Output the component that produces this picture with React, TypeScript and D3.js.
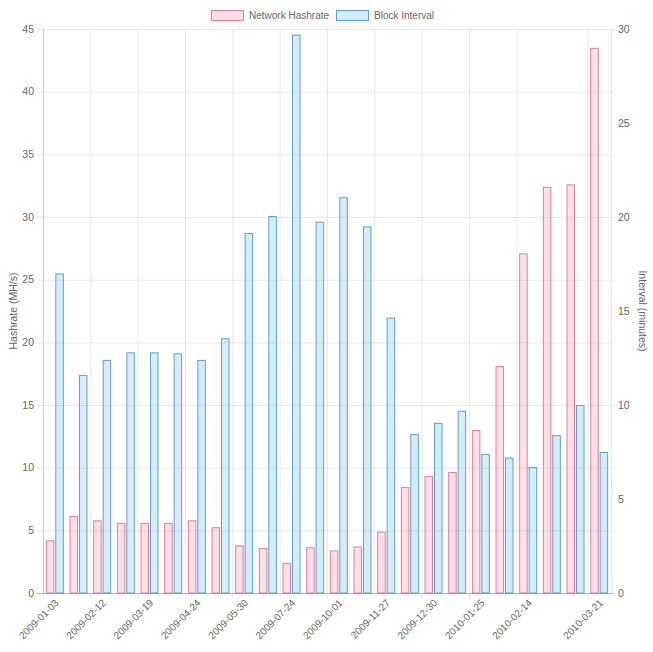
import React, { useEffect, useRef } from 'react';
import * as d3 from 'd3';

// block dates (only some are shown on the axis, like Chart.js autoskip)
const dates = [
  '2009-01-03', '2009-01-22', '2009-02-12', '2009-03-02', '2009-03-19', '2009-04-06',
  '2009-04-24', '2009-05-12', '2009-05-30', '2009-06-25', '2009-07-24', '2009-08-27',
  '2009-10-01', '2009-10-30', '2009-11-27', '2009-12-14', '2009-12-30', '2010-01-11',
  '2010-01-25', '2010-02-04', '2010-02-14', '2010-02-27', '2010-03-10', '2010-03-21',
];
const shownTicks = [0, 2, 4, 6, 8, 10, 12, 14, 16, 18, 20, 23];

const hashrate = [
  4.2, 6.15, 5.8, 5.6, 5.6, 5.6, 5.8, 5.25, 3.8, 3.6, 2.4, 3.65,
  3.4, 3.7, 4.9, 8.45, 9.35, 9.65, 13.0, 18.1, 27.1, 32.4, 32.6, 43.5,
];
const interval = [
  17.0, 11.6, 12.4, 12.8, 12.8, 12.75, 12.4, 13.55, 19.15, 20.05, 29.7, 19.75,
  21.05, 19.5, 14.65, 8.45, 9.05, 9.7, 7.4, 7.2, 6.7, 8.4, 10.0, 7.5,
];

const leftTicks = [0, 5, 10, 15, 20, 25, 30, 35, 40, 45];
const rightTicks = [0, 5, 10, 15, 20, 25, 30];

const W = 653;
const H = 652;
const FONT = '"Liberation Sans", Arial, sans-serif';
const TXT = '#666';
const GRID = 'rgba(0,0,0,0.09)';

const PINK_FILL = 'rgba(255,99,132,0.2)';
const PINK_LINE = 'rgb(225,125,155)';
const BLUE_FILL = 'rgba(54,162,235,0.2)';
const BLUE_LINE = 'rgb(95,160,205)';

const App: React.FC = () => {
  const svgRef = useRef<SVGSVGElement>(null);

  useEffect(() => {
    if (!svgRef.current) return;
    const svg = d3.select(svgRef.current);
    svg.selectAll('*').remove();

    const left = 43, right = 611, top = 29, bottom = 593;

    const x = d3.scaleBand<number>()
      .domain(dates.map((_, i) => i))
      .range([left, right])
      .padding(0);
    const yL = d3.scaleLinear().domain([0, 45]).range([bottom, top]);
    const yR = d3.scaleLinear().domain([0, 30]).range([bottom, top]);

    const step = x.bandwidth();
    const groupW = step * 0.8;
    const barW = (groupW / 2) * 0.9;

    // horizontal grid
    const g = svg.append('g');
    g.selectAll('line.h')
      .data(leftTicks)
      .enter().append('line')
      .attr('x1', left - 6).attr('x2', right + 3)
      .attr('y1', d => yL(d) + 0.5).attr('y2', d => yL(d) + 0.5)
      .attr('stroke', GRID);

    // vertical grid at shown ticks (offset grid lines)
    g.selectAll('line.v')
      .data(shownTicks)
      .enter().append('line')
      .attr('x1', d => x(d)! + 0.5).attr('x2', d => x(d)! + 0.5)
      .attr('y1', top).attr('y2', bottom + 6)
      .attr('stroke', GRID);
    g.append('line')
      .attr('x1', right + 0.5).attr('x2', right + 0.5)
      .attr('y1', top).attr('y2', bottom)
      .attr('stroke', GRID);

    // bars
    const bars = svg.append('g');
    bars.selectAll('rect.hash')
      .data(hashrate)
      .enter().append('rect')
      .attr('x', (_, i) => x(i)! + step / 2 - groupW / 2 + (groupW / 2 - barW) / 2 + 0.5)
      .attr('y', d => yL(d) + 0.5)
      .attr('width', barW - 1)
      .attr('height', d => bottom - yL(d) - 0.5)
      .attr('fill', PINK_FILL)
      .attr('stroke', PINK_LINE)
      .attr('stroke-width', 1);
    bars.selectAll('rect.int')
      .data(interval)
      .enter().append('rect')
      .attr('x', (_, i) => x(i)! + step / 2 + (groupW / 2 - barW) / 2 + 0.5)
      .attr('y', d => yR(d) + 0.5)
      .attr('width', barW - 1)
      .attr('height', d => bottom - yR(d) - 0.5)
      .attr('fill', BLUE_FILL)
      .attr('stroke', BLUE_LINE)
      .attr('stroke-width', 1);

    // axis lines
    svg.append('line')
      .attr('x1', left + 0.5).attr('x2', left + 0.5).attr('y1', top).attr('y2', bottom)
      .attr('stroke', 'rgba(0,0,0,0.12)');
    svg.append('line')
      .attr('x1', left - 6).attr('x2', right + 3).attr('y1', bottom + 0.5).attr('y2', bottom + 0.5)
      .attr('stroke', 'rgba(0,0,0,0.2)');

    // left tick labels
    svg.append('g').selectAll('text')
      .data(leftTicks)
      .enter().append('text')
      .attr('x', left - 9)
      .attr('y', d => yL(d))
      .attr('dy', '0.35em')
      .attr('text-anchor', 'end')
      .attr('font-family', FONT).attr('font-size', 10.5).attr('fill', TXT)
      .text(d => d);

    // right tick labels
    svg.append('g').selectAll('text')
      .data(rightTicks)
      .enter().append('text')
      .attr('x', right + 7)
      .attr('y', d => yR(d))
      .attr('dy', '0.35em')
      .attr('text-anchor', 'start')
      .attr('font-family', FONT).attr('font-size', 10.5).attr('fill', TXT)
      .text(d => d);

    // x tick labels, rotated
    svg.append('g').selectAll('text')
      .data(shownTicks)
      .enter().append('text')
      .attr('transform', d => `translate(${x(d)! + step / 2 + 2},${bottom + 8}) rotate(-45)`)
      .attr('text-anchor', 'end')
      .attr('dy', '0.35em')
      .attr('font-family', FONT).attr('font-size', 10).attr('fill', TXT)
      .text(d => dates[d]);

    // axis titles
    svg.append('text')
      .attr('transform', `translate(13,${(top + bottom) / 2}) rotate(-90)`)
      .attr('text-anchor', 'middle')
      .attr('dy', '0.35em')
      .attr('font-family', FONT).attr('font-size', 10.5).attr('fill', TXT)
      .text('Hashrate (MH/s)');
    svg.append('text')
      .attr('transform', `translate(643,${(top + bottom) / 2}) rotate(90)`)
      .attr('text-anchor', 'middle')
      .attr('dy', '0.35em')
      .attr('font-family', FONT).attr('font-size', 10.5).attr('fill', TXT)
      .text('Interval (minutes)');

    // legend
    const legend = [
      { label: 'Network Hashrate', fill: PINK_FILL, line: PINK_LINE, x: 211 },
      { label: 'Block Interval', fill: BLUE_FILL, line: BLUE_LINE, x: 336 },
    ];
    const lg = svg.append('g');
    legend.forEach(l => {
      lg.append('rect')
        .attr('x', l.x + 0.5).attr('y', 10.5)
        .attr('width', 32).attr('height', 10)
        .attr('fill', l.fill).attr('stroke', l.line);
      lg.append('text')
        .attr('x', l.x + 38).attr('y', 15.5)
        .attr('dy', '0.35em')
        .attr('font-family', FONT).attr('font-size', 10).attr('fill', TXT)
        .text(l.label);
    });
  }, []);

  return (
    <svg
      ref={svgRef}
      width={W}
      height={H}
      style={{ position: 'absolute', left: 0, top: 0, background: '#fff' }}
    />
  );
};

export default App;
